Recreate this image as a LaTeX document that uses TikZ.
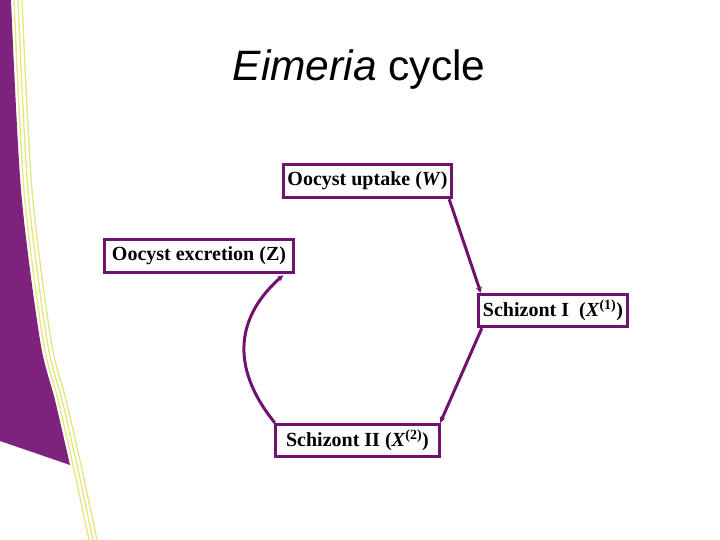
\documentclass[tikz,border=0pt]{standalone}
\usepackage{fontspec}
\setmainfont{Liberation Serif}
\newfontfamily\titlefont{Liberation Sans}
\usetikzlibrary{arrows.meta}
\definecolor{deeppurple}{RGB}{125,34,125}
\definecolor{boxpurple}{RGB}{112,18,112}
\definecolor{paleyellow}{RGB}{230,230,130}
\tikzset{
  stagebox/.style={draw=boxpurple, line width=3.4pt, fill=white, inner sep=0pt,
    font=\fontsize{20}{24}\selectfont\bfseries, text=black},
  flow/.style={draw=boxpurple, line width=3pt,
    -{Stealth[length=6pt,width=6pt]}},
  stripe/.style={draw=paleyellow, line width=1.4pt}
}
\begin{document}
\begin{tikzpicture}[x=1pt,y=-1pt]
\useasboundingbox (0,0) rectangle (720,540);
% background decoration
\fill[deeppurple] plot[smooth] coordinates {(11,0) (21,190) (40,340) (55,400) (70,465)}
  -- (0,441) -- (0,0) -- cycle;
\foreach \d in {3,7,11}{
  \draw[stripe] plot[smooth] coordinates {(11+\d,0) (21+\d,190) (40+\d,340) (55+\d,400) (70+\d,465) (86+\d,540)};
}
% title
\node[font=\titlefont\fontsize{42.5}{48}\selectfont] (title) at (359,70) {\textit{Eimeria} cycle};
% boxes
\node[stagebox, minimum width=168pt, minimum height=33pt] (W) at (367.5,181) {Oocyst uptake (\textit{W})};
\node[stagebox, minimum width=189pt, minimum height=33pt] (Z) at (199,256) {Oocyst excretion (Z)};
\node[stagebox, minimum width=149pt, minimum height=32pt] (X1) at (553,310.5) {Schizont I\ \ (\textit{X}\textsuperscript{(1)})};
\node[stagebox, minimum width=164pt, minimum height=32pt] (X2) at (357.5,440.5) {Schizont II (\textit{X}\textsuperscript{(2)})};
% connectors
\draw[flow] ([xshift=-4pt]W.south east) -- ([xshift=4pt]X1.north west);
\draw[flow] ([xshift=5pt]X1.south west) -- ([xshift=-1pt]X2.north east);
\draw[flow] ([xshift=1pt]X2.north west) .. controls (228,365) and (238,315) .. ([xshift=-12pt,yshift=-1pt]Z.south east);
\end{tikzpicture}
\end{document}
